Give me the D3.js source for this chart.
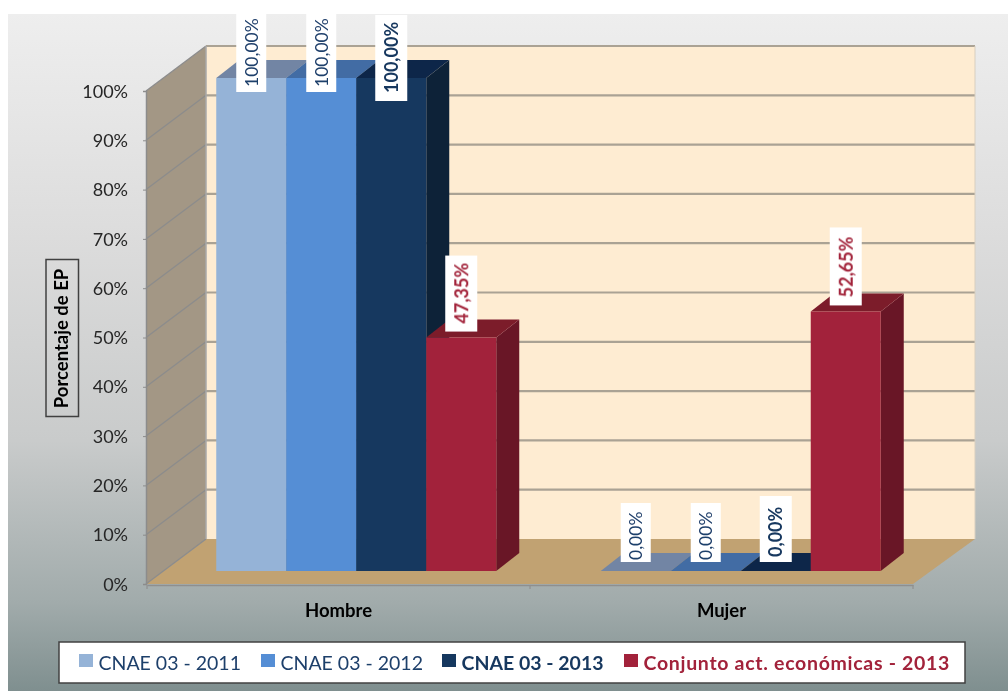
<!DOCTYPE html>
<html><head><meta charset="utf-8">
<script src="https://cdn.jsdelivr.net/npm/d3@7/dist/d3.min.js"></script>
<style>html,body{margin:0;padding:0;background:#fff}svg{display:block}text{font-family:Lato,"Open Sans",sans-serif}</style>
</head><body><div id="c"></div>
<script>
const categories = ["Hombre","Mujer"];
const seriesNames = ["CNAE 03 - 2011","CNAE 03 - 2012","CNAE 03 - 2013","Conjunto act. económicas - 2013"];
const values2011 = [100,0];
const values2012 = [100,0];
const values2013 = [100,0];
const valuesAll = [47.35,52.65];
const yTicks = [0,10,20,30,40,50,60,70,80,90,100];
const yAxisTitle = "Porcentaje de  EP";

const series = [values2011,values2012,values2013,valuesAll];
const front=["#95b3d7","#558ed5","#17375e","#a2233a"];
const topC=["#7285a4","#426ca4","#112848","#7c1a2c"];
const side=["#6d83a0","#3f699e","#0f2338","#691726"];
const labelCol=["#1f3f6b","#1f3f6b","#17375e","#a2233a"];
const bold=[false,false,true,true];
// label layout, per series and category: box bottom relative to bar top, box length, text inset from box bottom
const labelOff=[[14,-9],[14,-9],[23,-9],[-6,-6]];
const labelLen=[[78,59],[78,59],[86,66],[76,78]];
const labelPad=[[5,2],[5,2],[8,5],[8,8]];

const W=1008,H=691;
const svg=d3.select("#c").append("svg").attr("width",W).attr("height",H);
const defs=svg.append("defs");
const g=defs.append("linearGradient").attr("id","bg").attr("x1",0).attr("x2",0).attr("y1",0).attr("y2",1);
[[0,"#eeeeee"],[0.33,"#dcdcdc"],[0.63,"#c9cbcb"],[0.87,"#a1abab"],[1,"#7f8f8f"]].forEach(d=>g.append("stop").attr("offset",d[0]).attr("stop-color",d[1]));
const soft=defs.append("filter").attr("id","soft").attr("x","-5%").attr("y","-5%").attr("width","110%").attr("height","110%");
soft.append("feGaussianBlur").attr("stdDeviation",0.45);
const clip=defs.append("clipPath").attr("id","area");
clip.append("rect").attr("x",8).attr("y",14).attr("width",1000).attr("height",677);

const root=svg.append("g").attr("clip-path","url(#area)");
root.append("rect").attr("x",8).attr("y",14).attr("width",1000).attr("height",677).attr("fill","url(#bg)");
const chart=root.append("g").attr("filter","url(#soft)");

const y=d3.scaleLinear().domain([0,100]).range([584,91]);
const yBar=d3.scaleLinear().domain([0,100]).range([571,78]);
const x0=d3.scaleBand().domain(categories).range([147,913]);
const xGroup=d3.scaleBand().domain(categories).range([164,933]);
const x1=d3.scaleBand().domain(d3.range(series.length)).range([-140,140]);
const DX=60,DY=-45,dx=23,dy=-18;
const xL=x0.range()[0]-1, xR=x0.range()[1];
const poly=(p,f)=>chart.append("polygon").attr("points",p.map(d=>d.join(",")).join(" ")).attr("fill",f);

// walls and floor
poly([[xL+DX,y(100)+DY],[xR+DX+2,y(100)+DY],[xR+DX+2,y(0)+DY],[xL+DX,y(0)+DY]],"#feecd2");
poly([[xL,y(100)],[xL+DX,y(100)+DY],[xL+DX,y(0)+DY],[xL,y(0)]],"#a39785");
poly([[xL,y(0)],[xL+DX,y(0)+DY],[xR+DX+2,y(0)+DY],[xR,y(0)]],"#c1a272");

// gridlines
yTicks.forEach(t=>{
  if(t>0) chart.append("line").attr("x1",xL+DX).attr("x2",xR+DX+2).attr("y1",y(t)+DY).attr("y2",y(t)+DY).attr("stroke","#aaa294").attr("stroke-width",2.2);
  chart.append("line").attr("x1",xL).attr("x2",xL+DX).attr("y1",y(t)).attr("y2",y(t)+DY).attr("stroke","#8c8c8c").attr("stroke-width",1.3);
});
chart.append("line").attr("x1",xL+DX).attr("x2",xL+DX).attr("y1",y(100)+DY).attr("y2",y(0)+DY).attr("stroke","#a9a9a9").attr("stroke-width",1.5);
chart.append("line").attr("x1",xR+DX+2).attr("x2",xR+DX+2).attr("y1",y(100)+DY).attr("y2",y(0)+DY).attr("stroke","#d8cfc0").attr("stroke-width",1);

// axes
const yAxis=chart.append("g").attr("transform",`translate(${xL},0)`).call(d3.axisLeft(y).tickValues(yTicks).tickFormat(d=>d+"%").tickSize(3).tickPadding(15));
yAxis.select(".domain").attr("stroke","#8c8c8c").attr("stroke-width",1.5);
yAxis.selectAll("line").attr("stroke","#8c8c8c");
yAxis.selectAll("text").attr("font-size",18).attr("fill","#262626").attr("dy","0.34em").style("font-family","Lato");
const xAxis=chart.append("g").attr("transform",`translate(0,${y(0)+1})`).call(d3.axisBottom(x0).tickValues([]).tickSize(0));
xAxis.select(".domain").attr("stroke","#8f8f8f").attr("stroke-width",1.5);
[xL+1,x0("Mujer"),xR].forEach(v=>chart.append("line").attr("x1",v).attr("x2",v).attr("y1",y(0)+1).attr("y2",y(0)+5).attr("stroke","#8f8f8f").attr("stroke-width",1.2));
categories.forEach(c=>chart.append("text").attr("x",x0(c)+x0.bandwidth()/2).attr("y",617).attr("text-anchor","middle").attr("font-size",18.5).attr("font-weight",700).attr("fill","#000").text(c));

// bars
categories.forEach((c,ci)=>{
  series.forEach((s,si)=>{
    const l=xGroup(c)+xGroup.bandwidth()/2+x1(si), r=l+x1.bandwidth(), t=yBar(s[ci]), b=yBar(0);
    if(s[ci]>0){
      poly([[r,t],[r+dx,t+dy],[r+dx,b+dy],[r,b]],side[si]);
    }
    poly([[l,t],[l+dx,t+dy],[r+dx,t+dy],[r,t]],topC[si]);
    if(s[ci]>0) poly([[l,t],[r,t],[r,b],[l,b]],front[si]);
  });
});

// labels
const fmt=v=>v.toFixed(2).replace(".",",")+"%";
categories.forEach((c,ci)=>{
  series.forEach((s,si)=>{
    const cx=xGroup(c)+xGroup.bandwidth()/2+x1(si)+x1.bandwidth()/2;
    const bottom=yBar(s[ci])+labelOff[si][ci];
    const lg=chart.append("g").attr("transform",`translate(${cx},${bottom}) rotate(-90)`);
    const hw=bold[si]?16:15;
    lg.append("rect").attr("x",0).attr("y",-hw).attr("width",labelLen[si][ci]).attr("height",2*hw).attr("fill","#fff");
    lg.append("text").attr("x",labelPad[si][ci]).attr("y",6.5).attr("font-size",bold[si]?18:17.5).attr("font-weight",bold[si]?700:400).attr("fill",labelCol[si]).text(fmt(s[ci]));
  });
});

// axis title
chart.append("rect").attr("x",46).attr("y",259.5).attr("width",32.5).attr("height",157).attr("fill","none").attr("stroke","#404040").attr("stroke-width",1.5);
chart.append("text").attr("transform","translate(67.5,338.5) rotate(-90)").attr("text-anchor","middle").attr("font-size",18.5).attr("font-weight",700).attr("fill","#000").text(yAxisTitle);

// legend
chart.append("rect").attr("x",59).attr("y",642).attr("width",906).attr("height",41).attr("fill","#fff").attr("stroke","#404040").attr("stroke-width",1.5);
const legendX=d3.scaleOrdinal().domain(seriesNames).range([79,261,442,624]);
seriesNames.forEach((n,i)=>{
  const lx=legendX(n);
  chart.append("rect").attr("x",lx).attr("y",654).attr("width",14).attr("height",13).attr("fill",front[i]);
  chart.append("text").attr("x",lx+19.5).attr("y",670).attr("font-size",19.5).attr("font-weight",bold[i]?700:400).attr("letter-spacing",i===3?0.7:0).attr("fill",labelCol[i]).text(n);
});
</script></body></html>
